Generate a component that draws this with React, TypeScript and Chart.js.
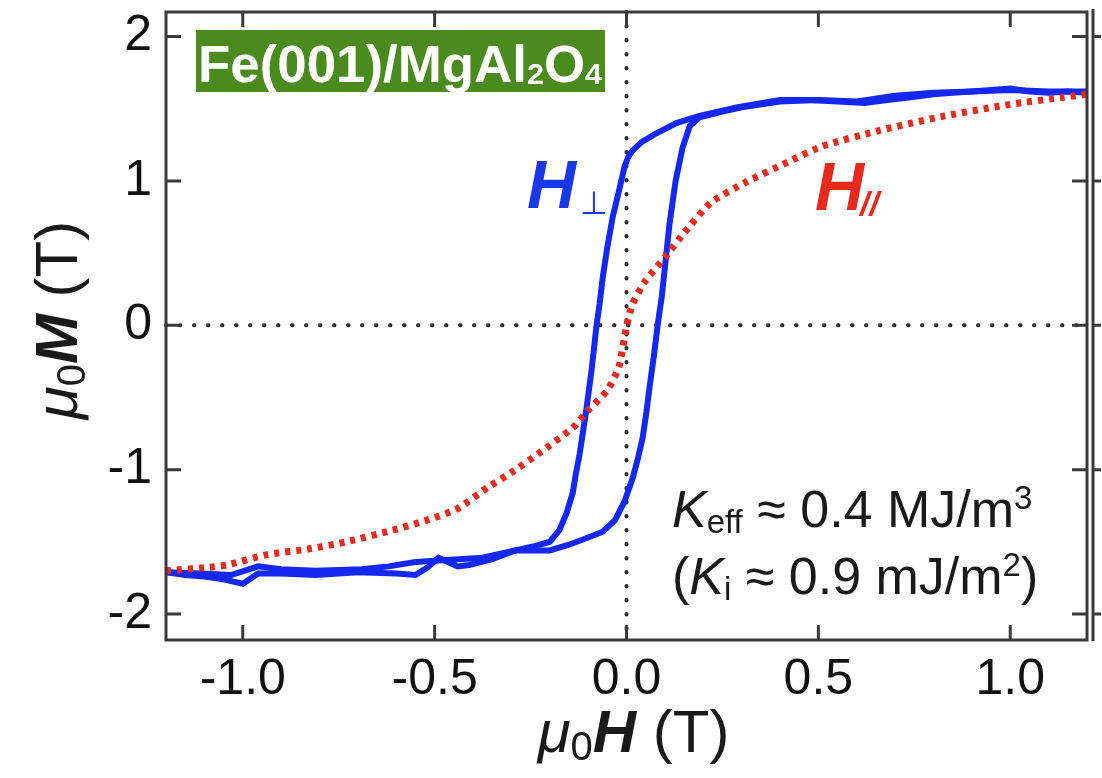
import React, { useEffect, useRef } from "react";
import { Chart, registerables } from "chart.js";

Chart.register(...registerables);

// ---- tick values ----
const xTicks = [-1.0, -0.5, 0.0, 0.5, 1.0];
const yTicks = [-2, -1, 0, 1, 2];

// ---- H-perpendicular loop, descending branch (+H -> -H) ----
const perpDownH = [1.2, 1.15, 1.1, 1.05, 1.0, 0.95, 0.9, 0.85, 0.8, 0.74, 0.68, 0.62, 0.55, 0.48, 0.4, 0.29, 0.19, 0.13, 0.078, 0.04, 0.016, 0.005, -0.005, -0.018, -0.036, -0.05, -0.062, -0.07, -0.078, -0.091, -0.104, -0.114, -0.122, -0.132, -0.14, -0.156, -0.175, -0.2, -0.24, -0.29, -0.375, -0.49, -0.55, -0.62, -0.69, -0.81, -0.9, -0.96, -1.03, -1.11, -1.2];
const perpDownM = [1.61, 1.62, 1.61, 1.62, 1.64, 1.63, 1.62, 1.61, 1.6, 1.58, 1.56, 1.54, 1.55, 1.56, 1.56, 1.51, 1.45, 1.4, 1.33, 1.27, 1.21, 1.17, 1.1, 0.95, 0.75, 0.54, 0.33, 0.15, 0.0, -0.31, -0.57, -0.75, -0.89, -1.03, -1.16, -1.3, -1.42, -1.5, -1.53, -1.56, -1.61, -1.63, -1.64, -1.67, -1.69, -1.7, -1.69, -1.67, -1.73, -1.72, -1.71];

// ---- H-perpendicular loop, ascending branch (-H -> +H) ----
const perpUpH = [-1.2, -1.15, -1.1, -1.05, -1.0, -0.96, -0.9, -0.81, -0.7, -0.6, -0.55, -0.52, -0.49, -0.44, -0.41, -0.35, -0.29, -0.24, -0.2, -0.15, -0.1, -0.062, -0.03, -0.005, 0.016, 0.03, 0.042, 0.052, 0.06, 0.072, 0.081, 0.092, 0.1, 0.112, 0.128, 0.146, 0.165, 0.19, 0.25, 0.3, 0.4, 0.5, 0.6, 0.7, 0.8, 0.9, 1.0, 1.1, 1.2];
const perpUpM = [-1.71, -1.73, -1.74, -1.76, -1.79, -1.72, -1.72, -1.73, -1.71, -1.72, -1.73, -1.68, -1.61, -1.67, -1.66, -1.62, -1.56, -1.56, -1.56, -1.52, -1.47, -1.43, -1.35, -1.22, -1.06, -0.92, -0.78, -0.6, -0.43, -0.2, 0.0, 0.2, 0.4, 0.7, 1.0, 1.23, 1.38, 1.44, 1.48, 1.51, 1.55, 1.56, 1.55, 1.59, 1.61, 1.62, 1.63, 1.62, 1.62];

// ---- H-parallel curve ----
const parH = [-1.2, -1.1, -1.04, -0.94, -0.83, -0.73, -0.61, -0.52, -0.44, -0.36, -0.3, -0.23, -0.14, -0.1, -0.05, -0.02, 0.0, 0.016, 0.05, 0.1, 0.15, 0.22, 0.31, 0.42, 0.51, 0.66, 0.83, 1.0, 1.14, 1.2];
const parM = [-1.7, -1.68, -1.66, -1.59, -1.55, -1.5, -1.42, -1.35, -1.27, -1.12, -1.02, -0.89, -0.71, -0.59, -0.45, -0.29, -0.01, 0.15, 0.31, 0.47, 0.64, 0.85, 0.99, 1.13, 1.24, 1.35, 1.45, 1.53, 1.58, 1.6];

const FAM = "'Liberation Sans', Arial, Helvetica, sans-serif";
const BLUE = "#1428f0";
const RED = "#e62a1e";
const GREEN = "#4b8a1f";
const AXIS = "#3a3a3a";

const toPts = (xs: number[], ys: number[]) => xs.map((x, i) => ({ x, y: ys[i] }));

type Seg = { t: string; font: string; dy?: number };
function drawRich(ctx: CanvasRenderingContext2D, segs: Seg[], x: number, y: number, align: "left" | "center") {
  let w = 0;
  segs.forEach((s) => {
    ctx.font = s.font;
    w += ctx.measureText(s.t).width;
  });
  let cx = align === "center" ? x - w / 2 : x;
  ctx.textAlign = "left";
  ctx.textBaseline = "alphabetic";
  segs.forEach((s) => {
    ctx.font = s.font;
    ctx.fillText(s.t, cx, y + (s.dy || 0));
    cx += ctx.measureText(s.t).width;
  });
  return w;
}

const deco = {
  id: "deco",
  beforeDatasetsDraw(chart: any) {
    const { ctx, chartArea: a, scales } = chart;
    const x0 = scales.x.getPixelForValue(0);
    const y0 = scales.y.getPixelForValue(0);
    ctx.save();
    ctx.strokeStyle = "#2a2a2a";
    ctx.lineWidth = 4;
    ctx.lineCap = "round";
    ctx.setLineDash([0.5, 13.5]);
    ctx.beginPath();
    ctx.moveTo(a.left, y0);
    ctx.lineTo(a.right, y0);
    ctx.stroke();
    ctx.beginPath();
    ctx.moveTo(x0, a.top);
    ctx.lineTo(x0, a.bottom);
    ctx.stroke();
    ctx.restore();
  },
  afterDatasetsDraw(chart: any) {
    const { ctx, chartArea: a, scales } = chart;
    const sx = scales.x;
    const sy = scales.y;
    ctx.save();
    // frame
    ctx.strokeStyle = AXIS;
    ctx.lineWidth = 3;
    ctx.setLineDash([]);
    ctx.strokeRect(a.left, a.top, a.right - a.left, a.bottom - a.top);
    // neighbour-panel edge on the right
    const x2 = a.right + 6;
    ctx.beginPath();
    ctx.moveTo(x2, a.top - 3);
    ctx.lineTo(x2, a.bottom + 1);
    ctx.stroke();
    // inward ticks
    const tl = 15;
    ctx.beginPath();
    xTicks.forEach((v) => {
      const px = sx.getPixelForValue(v);
      ctx.moveTo(px, a.bottom);
      ctx.lineTo(px, a.bottom - tl);
      ctx.moveTo(px, a.top);
      ctx.lineTo(px, a.top + tl);
    });
    yTicks.forEach((v) => {
      const py = sy.getPixelForValue(v);
      ctx.moveTo(a.left, py);
      ctx.lineTo(a.left + tl, py);
      ctx.moveTo(a.right, py);
      ctx.lineTo(a.right - tl, py);
      ctx.moveTo(x2, py);
      ctx.lineTo(x2 + 8, py);
    });
    ctx.stroke();

    // sample label box
    const bx = a.left + 30;
    const by = a.top + 18;
    const bw = 409;
    const bh = 62;
    ctx.fillStyle = GREEN;
    ctx.fillRect(bx, by, bw, bh);
    const segs: Seg[] = [
      { t: "Fe(001)/MgAl", font: `bold 52px ${FAM}` },
      { t: "2", font: `bold 30px ${FAM}`, dy: 2 },
      { t: "O", font: `bold 52px ${FAM}` },
      { t: "4", font: `bold 30px ${FAM}`, dy: 2 },
    ];
    let tw = 0;
    segs.forEach((s) => {
      ctx.font = s.font;
      tw += ctx.measureText(s.t).width;
    });
    const target = 404;
    ctx.save();
    ctx.translate(bx + 2, by + 52);
    ctx.scale(target / tw, 1);
    ctx.fillStyle = "#ffffff";
    drawRich(ctx, segs, 0, 0, "left");
    ctx.restore();

    // curve labels
    ctx.fillStyle = "#1a38e6";
    drawRich(ctx, [{ t: "H", font: `italic bold 68px ${FAM}` }], 527, 208, "left");
    ctx.font = `32px 'DejaVu Sans', sans-serif`;
    ctx.fillText("\u22A5", 580, 214);

    ctx.fillStyle = RED;
    drawRich(ctx, [{ t: "H", font: `italic bold 68px ${FAM}` }], 815, 210, "left");
    ctx.font = `italic bold 34px ${FAM}`;
    ctx.fillText("//", 860, 215);

    // anisotropy annotation
    ctx.fillStyle = "#1a1a1a";
    drawRich(
      ctx,
      [
        { t: "K", font: `italic 52px ${FAM}` },
        { t: "eff", font: `33px ${FAM}`, dy: 6 },
        { t: " \u2248 0.4 MJ/m", font: `52px ${FAM}` },
        { t: "3", font: `33px ${FAM}`, dy: -18 },
      ],
      672,
      527,
      "left"
    );
    drawRich(
      ctx,
      [
        { t: "(", font: `52px ${FAM}` },
        { t: "K", font: `italic 52px ${FAM}` },
        { t: "i", font: `33px ${FAM}`, dy: 6 },
        { t: " \u2248 0.9 mJ/m", font: `52px ${FAM}` },
        { t: "2", font: `33px ${FAM}`, dy: -18 },
        { t: ")", font: `52px ${FAM}` },
      ],
      672,
      594,
      "left"
    );

    // axis titles
    ctx.fillStyle = "#1a1a1a";
    const title = (b: string): Seg[] => [
      { t: "\u03BC", font: `italic 60px ${FAM}` },
      { t: "0", font: `40px ${FAM}`, dy: 8 },
      { t: b, font: `italic bold 60px ${FAM}` },
      { t: " (T)", font: `60px ${FAM}` },
    ];
    drawRich(ctx, title("H"), (a.left + a.right) / 2 + 7, 752, "center");
    ctx.save();
    ctx.translate(77, (a.top + a.bottom) / 2 - 6);
    ctx.rotate(-Math.PI / 2);
    drawRich(ctx, title("M"), 0, 0, "center");
    ctx.restore();

    ctx.restore();
  },
};

export default function App() {
  const ref = useRef<HTMLCanvasElement | null>(null);
  useEffect(() => {
    if (!ref.current) return;
    const chart = new Chart(ref.current, {
      type: "scatter",
      data: {
        datasets: [
          {
            label: "H//",
            data: toPts(parH, parM),
            showLine: true,
            borderColor: RED,
            borderWidth: 7,
            borderDash: [5, 6],
            borderCapStyle: "butt",
            pointRadius: 0,
            tension: 0.2,
          },
          {
            label: "Hperp up",
            data: toPts(perpUpH, perpUpM),
            showLine: true,
            borderColor: BLUE,
            borderWidth: 6,
            pointRadius: 0,
            tension: 0,
          },
          {
            label: "Hperp down",
            data: toPts(perpDownH, perpDownM),
            showLine: true,
            borderColor: BLUE,
            borderWidth: 6,
            pointRadius: 0,
            tension: 0,
          },
        ],
      },
      options: {
        animation: false,
        responsive: false,
        maintainAspectRatio: false,
        layout: { autoPadding: false, padding: { top: 12, right: 15, left: 0, bottom: 0 } },
        plugins: { legend: { display: false }, tooltip: { enabled: false } },
        scales: {
          x: {
            type: "linear",
            min: -1.2,
            max: 1.2,
            grid: { display: false, drawTicks: false },
            border: { display: false },
            afterBuildTicks: (s: any) => {
              s.ticks = xTicks.map((v) => ({ value: v }));
            },
            afterFit: (s: any) => {
              s.height = 138;
              s.paddingLeft = 0;
              s.paddingRight = 0;
              s.paddingTop = 0;
              s.paddingBottom = 0;
            },
            ticks: {
              font: { family: FAM, size: 50 },
              color: "#111",
              padding: 10,
              maxRotation: 0,
              autoSkip: false,
              callback: (v: any) => Number(v).toFixed(1),
            },
          },
          y: {
            type: "linear",
            min: -2.18,
            max: 2.17,
            grid: { display: false, drawTicks: false },
            border: { display: false },
            afterBuildTicks: (s: any) => {
              s.ticks = yTicks.map((v) => ({ value: v }));
            },
            afterFit: (s: any) => {
              s.width = 166;
              s.paddingLeft = 0;
              s.paddingRight = 0;
              s.paddingTop = 0;
              s.paddingBottom = 0;
            },
            ticks: {
              font: { family: FAM, size: 50 },
              color: "#111",
              padding: 14,
              autoSkip: false,
              callback: (v: any) => String(v),
            },
          },
        },
      },
      plugins: [deco],
    } as any);
    return () => chart.destroy();
  }, []);
  return (
    <div style={{ position: "absolute", left: 0, top: 0, width: 1102, height: 778, background: "#fff" }}>
      <canvas ref={ref} width={1102} height={778} style={{ display: "block" }} />
    </div>
  );
}
